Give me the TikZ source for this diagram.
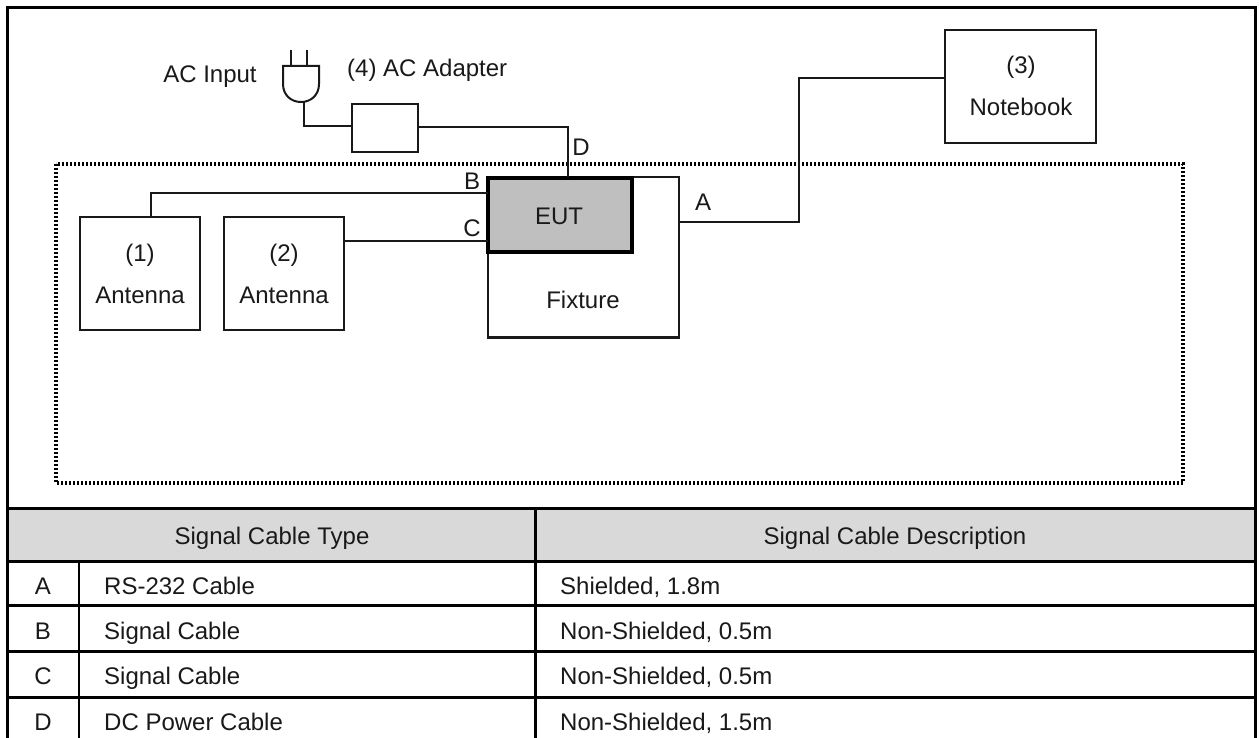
\documentclass[tikz,border=0pt]{standalone}
\usepackage{fontspec}
\setmainfont{Liberation Sans}
\tikzset{
  lbl/.style={inner sep=0pt,font=\fontsize{24}{28}\selectfont,text=black!90,text height=17.2pt,text depth=0pt},
  thin box/.style={draw=black!90,line width=2.2pt,fill=white,inner sep=0pt,outer sep=0pt,anchor=north west},
  wire/.style={draw=black!90,line width=2pt},
  rule/.style={draw=black,line width=2.7pt},
}
\begin{document}
\begin{tikzpicture}[x=1pt,y=-1pt]
\useasboundingbox (0,0) rectangle (1259,738);
\fill[white] (0,0) rectangle (1259,738);
% header shade
\fill[black!15] (7.5,508.5) rectangle (1255.5,561);
% dotted enclosure
\draw[black,line width=3.2pt,dash pattern=on 2pt off 2pt] (56,164) rectangle (1183,483);
% boxes
\node[thin box,minimum width=191pt,minimum height=160.5pt,line width=2.8pt] (fix) at (488,177) {};
\node[lbl] at (583,300) {Fixture};
\node[draw=black,line width=3.4pt,fill=black!25,minimum width=144pt,minimum height=74pt,anchor=north west,inner sep=0pt,outer sep=0pt] (eut) at (488,178) {};
\node[lbl] at (559,216) {EUT};
\node[thin box,minimum width=120pt,minimum height=113pt] (a1) at (80,217) {};
\node[lbl] at (140,253) {(1)};
\node[lbl] at (140,295) {Antenna};
\node[thin box,minimum width=120pt,minimum height=113pt] (a2) at (224,217) {};
\node[lbl] at (284,253) {(2)};
\node[lbl] at (284,295) {Antenna};
\node[thin box,minimum width=151pt,minimum height=113pt] (nb) at (945,30) {};
\node[lbl] at (1021,65) {(3)};
\node[lbl] at (1021,107) {Notebook};
\node[thin box,minimum width=66pt,minimum height=48pt] (ad) at (352,104) {};
% connectors
\coordinate (bl) at (488,193);
\coordinate (cl) at (488,241);
\coordinate (ar) at (679,222);
\coordinate (plugb) at (304,102);
\coordinate (a1t) at (151,217);
\coordinate (dt) at (568,177);
\draw[wire] (a1t) -- (151,193) -- (bl);
\draw[wire] (a2.east |- cl) -- (cl);
\draw[wire] (ar) -- (799,222) -- (799,78) -- (nb.west |- 0,78);
\draw[wire] (plugb) -- (304,126) -- (ad.west |- 0,126);
\draw[wire] (ad.east |- 0,127) -- (568,127) -- (dt);
% plug
\draw[wire] (291,50) -- (291,66);
\draw[wire] (307,50) -- (307,66);
\draw[wire] (283,66) -- (319,66) -- (319,84) .. controls (319,95) and (311,102) .. (301,102) .. controls (291,102) and (283,95) .. (283,84) -- cycle;
% labels
\node[lbl] at (210,74) {AC Input};
\node[lbl,anchor=west] at (347,68) {(4) AC Adapter};
\node[lbl] at (581,147) {D};
\node[lbl] at (472,181) {B};
\node[lbl] at (472,228) {C};
\node[lbl] at (703,202) {A};
% frame + table
\draw[rule,line width=3pt] (7.5,738) -- (7.5,7.5) -- (1255.5,7.5) -- (1255.5,738);
\draw[rule,line width=2.2pt] (7,508.5) -- (1256,508.5);
\draw[rule] (7,561.5) -- (1256,561.5);
\draw[rule,line width=2.5pt] (7,605.7) -- (1256,605.7);
\draw[rule,line width=2.5pt] (7,651.7) -- (1256,651.7);
\draw[rule,line width=2.5pt] (7,697.3) -- (1256,697.3);
\draw[rule] (79,561) -- (79,738);
\draw[rule] (535.5,508) -- (535.5,738);
\node[lbl] at (272,536) {Signal Cable Type};
\node[lbl] at (895,536) {Signal Cable Description};
\node[lbl] at (43,586) {A};
\node[lbl] at (43,631) {B};
\node[lbl] at (43,676) {C};
\node[lbl] at (43,722) {D};
\node[lbl,anchor=west] at (104,586) {RS-232 Cable};
\node[lbl,anchor=west] at (104,631) {Signal Cable};
\node[lbl,anchor=west] at (104,676) {Signal Cable};
\node[lbl,anchor=west] at (104,722) {DC Power Cable};
\node[lbl,anchor=west] at (560,586) {Shielded, 1.8m};
\node[lbl,anchor=west] at (560,631) {Non-Shielded, 0.5m};
\node[lbl,anchor=west] at (560,676) {Non-Shielded, 0.5m};
\node[lbl,anchor=west] at (560,722) {Non-Shielded, 1.5m};
\end{tikzpicture}
\end{document}
